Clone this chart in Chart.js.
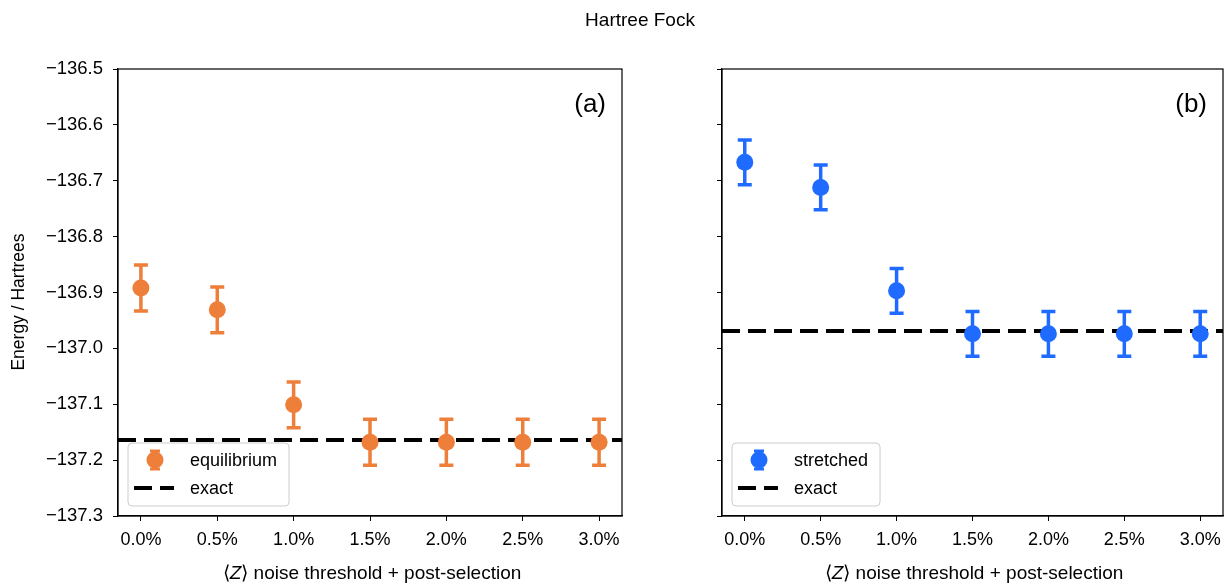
<!DOCTYPE html>
<html lang="en">
<head>
  <meta charset="UTF-8">
  <title>Hartree Fock</title>
  <script src="https://cdn.jsdelivr.net/npm/chart.js"></script>
  <style>
    body {
      margin: 0;
      background: #fff;
      font-family: "Liberation Sans", Arial, sans-serif;
      color: #000;
    }
    #wrap {
      position: relative;
      width: 1226px;
      height: 584px;
      overflow: hidden;
    }
    .panel {
      position: absolute;
      top: 0;
      height: 584px;
    }
    #panelA { left: 0; width: 661px; }
    #panelB { left: 661px; width: 580px; }
    .title {
      position: absolute;
      left: 540px;
      width: 200px;
      top: 8px;
      line-height: 24px;
      font-size: 19px;
      text-align: center;
    }
    .xlabel {
      position: absolute;
      top: 561px;
      width: 400px;
      line-height: 24px;
      font-size: 19px;
      text-align: center;
      white-space: nowrap;
    }
    .ylabel {
      position: absolute;
      left: -82px;
      top: 290px;
      width: 200px;
      line-height: 24px;
      font-size: 17.5px;
      text-align: center;
      transform: rotate(-90deg);
      white-space: nowrap;
    }
  </style>
</head>
<body>
  <div id="wrap">
    <div class="panel" id="panelA"><canvas id="chartA"></canvas></div>
    <div class="panel" id="panelB"><canvas id="chartB"></canvas></div>
    <div class="title">Hartree Fock</div>
    <div class="ylabel">Energy / Hartrees</div>
    <div class="xlabel" style="left:172px">⟨<i>Z</i>⟩ noise threshold + post-selection</div>
    <div class="xlabel" style="left:774px">⟨<i>Z</i>⟩ noise threshold + post-selection</div>
  </div>

  <script>
    // noise threshold in %
    const thresholds = [0.0, 0.5, 1.0, 1.5, 2.0, 2.5, 3.0];

    const equilibrium = [-136.892, -136.931, -137.101, -137.168, -137.168, -137.168, -137.168];
    const equilibriumErr = [0.041, 0.041, 0.041, 0.041, 0.041, 0.041, 0.041];
    const exactEquilibrium = -137.164;

    const stretched = [-136.667, -136.712, -136.897, -136.974, -136.974, -136.974, -136.974];
    const stretchedErr = [0.040, 0.040, 0.040, 0.040, 0.040, 0.040, 0.040];
    const exactStretched = -136.969;

    const yTicks = [-137.3, -137.2, -137.1, -137.0, -136.9, -136.8, -136.7, -136.6, -136.5];
    const xMin = -0.15, xMax = 3.15;

    const FONT = '"Liberation Sans", Arial, sans-serif';
    const orange = '#ee7f3b';
    const blue = '#1f6bff';

    // error bars drawn under the markers, over the exact line
    const errorBars = {
      id: 'errorBars',
      beforeDatasetDraw(chart, args, opts) {
        if (args.index !== 0) return;
        const ds = chart.data.datasets[0];
        const xs = chart.scales.x, ys = chart.scales.y;
        const ctx = chart.ctx;
        ctx.save();
        ctx.strokeStyle = ds.backgroundColor;
        ctx.lineWidth = 3.5;
        ds.data.forEach((p, i) => {
          const x = xs.getPixelForValue(p.x);
          const y1 = ys.getPixelForValue(p.y + opts.err[i]);
          const y2 = ys.getPixelForValue(p.y - opts.err[i]);
          ctx.beginPath();
          ctx.moveTo(x, y1); ctx.lineTo(x, y2);
          ctx.moveTo(x - 7, y1); ctx.lineTo(x + 7, y1);
          ctx.moveTo(x - 7, y2); ctx.lineTo(x + 7, y2);
          ctx.stroke();
        });
        ctx.restore();
      }
    };

    // box frame, panel tag and matplotlib-style legend
    const frame = {
      id: 'frame',
      afterDraw(chart, args, opts) {
        const ctx = chart.ctx;
        const ca = chart.chartArea;
        ctx.save();
        ctx.strokeStyle = '#000';
        ctx.lineWidth = 1.2;
        ctx.strokeRect(ca.left, ca.top, ca.right - ca.left, ca.bottom - ca.top);

        ctx.fillStyle = '#000';
        ctx.font = '26px ' + FONT;
        ctx.textAlign = 'right';
        ctx.textBaseline = 'middle';
        ctx.fillText(opts.tag, ca.right - 16, ca.top + 36);

        // legend
        ctx.font = '18px ' + FONT;
        const labels = [chart.data.datasets[0].label, chart.data.datasets[1].label];
        const tw = Math.max(...labels.map(t => ctx.measureText(t).width));
        const bx = ca.left + 10, by = ca.bottom - 73;
        const bw = 62 + tw + 12, bh = 63;
        ctx.beginPath();
        ctx.roundRect(bx, by, bw, bh, 4);
        ctx.fillStyle = 'rgba(255,255,255,0.8)';
        ctx.fill();
        ctx.strokeStyle = '#cccccc';
        ctx.lineWidth = 1;
        ctx.stroke();

        const col = chart.data.datasets[0].backgroundColor;
        const ix = bx + 27, r1 = by + 17, r2 = by + 45;
        ctx.strokeStyle = col;
        ctx.lineWidth = 3;
        ctx.beginPath();
        ctx.moveTo(ix, r1 - 9); ctx.lineTo(ix, r1 + 9);
        ctx.moveTo(ix - 5, r1 - 9); ctx.lineTo(ix + 5, r1 - 9);
        ctx.moveTo(ix - 5, r1 + 9); ctx.lineTo(ix + 5, r1 + 9);
        ctx.stroke();
        ctx.fillStyle = col;
        ctx.beginPath();
        ctx.arc(ix, r1, 8.5, 0, Math.PI * 2);
        ctx.fill();

        ctx.strokeStyle = '#000';
        ctx.lineWidth = 4;
        ctx.setLineDash([18, 8]);
        ctx.beginPath();
        ctx.moveTo(bx + 6, r2); ctx.lineTo(bx + 46, r2);
        ctx.stroke();
        ctx.setLineDash([]);

        ctx.fillStyle = '#000';
        ctx.textAlign = 'left';
        ctx.fillText(labels[0], bx + 62, r1 + 1);
        ctx.fillText(labels[1], bx + 62, r2 + 1);
        ctx.restore();
      }
    };

    function makeChart(id, label, values, errs, exact, color, tag, yWidth, padRight, showYLabels) {
      const ctx = document.getElementById(id).getContext('2d');
      return new Chart(ctx, {
        type: 'scatter',
        data: {
          datasets: [{
            label: label,
            data: thresholds.map((t, i) => ({ x: t, y: values[i] })),
            backgroundColor: color,
            borderWidth: 0,
            pointRadius: 8.5,
            pointHoverRadius: 8.5,
            order: 1
          }, {
            type: 'line',
            label: 'exact',
            data: [{ x: xMin, y: exact }, { x: xMax, y: exact }],
            borderColor: '#000',
            borderWidth: 4,
            borderDash: [18, 8],
            pointRadius: 0,
            fill: false,
            order: 2
          }]
        },
        options: {
          responsive: false,
          animation: false,
          events: [],
          layout: { padding: { top: 69, right: padRight, left: 0, bottom: 0 } },
          plugins: {
            legend: { display: false },
            tooltip: { enabled: false },
            errorBars: { err: errs },
            frame: { tag: tag }
          },
          scales: {
            x: {
              type: 'linear',
              min: xMin,
              max: xMax,
              afterBuildTicks: axis => { axis.ticks = thresholds.map(v => ({ value: v })); },
              afterFit: axis => { axis.height = 68; },
              grid: { drawOnChartArea: false, drawTicks: true, tickLength: 5, color: '#000', tickWidth: 1 },
              border: { display: true, color: '#000', width: 1.2 },
              ticks: {
                color: '#000',
                padding: 8,
                maxRotation: 0,
                font: { family: FONT, size: 18 },
                callback: v => v.toFixed(1) + '%'
              }
            },
            y: {
              min: -137.3,
              max: -136.5,
              afterBuildTicks: axis => { axis.ticks = yTicks.map(v => ({ value: v })); },
              afterFit: axis => { axis.width = yWidth; },
              grid: { drawOnChartArea: false, drawTicks: true, tickLength: 5, color: '#000', tickWidth: 1 },
              border: { display: true, color: '#000', width: 1.2 },
              ticks: {
                color: '#000',
                padding: 10,
                font: { family: FONT, size: 18.5 },
                callback: v => showYLabels ? v.toFixed(1).replace('-', '\u2212') : ''
              }
            }
          }
        },
        plugins: [errorBars, frame]
      });
    }

    function sizeCanvas(id, w, h) {
      const c = document.getElementById(id);
      c.width = w; c.height = h;
      c.style.width = w + 'px'; c.style.height = h + 'px';
    }
    sizeCanvas('chartA', 661, 584);
    sizeCanvas('chartB', 580, 584);

    makeChart('chartA', 'equilibrium', equilibrium, equilibriumErr, exactEquilibrium, orange, '(a)', 118, 39, true);
    makeChart('chartB', 'stretched', stretched, stretchedErr, exactStretched, blue, '(b)', 61, 18, false);
  </script>
</body>
</html>
